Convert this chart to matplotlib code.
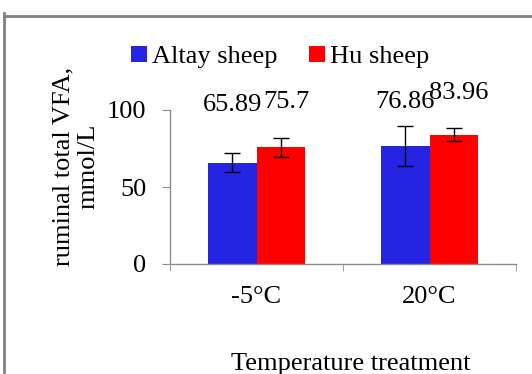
import numpy as np
import matplotlib
matplotlib.use("Agg")
import matplotlib.pyplot as plt
from matplotlib.lines import Line2D

plt.rcParams['font.family'] = ['Liberation Serif', 'DejaVu Serif']

# data
categories = ['-5°C', '20°C']
series = ['Altay sheep', 'Hu sheep']
altay = [65.89, 76.86]
hu = [75.7, 83.96]
altay_err = [6.3, 12.9]
hu_err = [6.1, 4.3]
colors = ['#2424e2', '#ff0000']

# label heights (layout only)
altay_lab_y = [103, 105]
hu_lab_y = [105, 111]

W, H = 532, 374
fig = plt.figure(figsize=(W / 100, H / 100), dpi=100)
ax = fig.add_axes([170 / W, 1 - 264 / H, 346 / W, 154 / H])

x = np.arange(len(categories))
bw = 0.28
ax.bar(x - bw / 2, altay, bw, color=colors[0], label=series[0])
ax.bar(x + bw / 2, hu, bw, color=colors[1], label=series[1])
ax.errorbar(x - bw / 2, altay, yerr=altay_err, fmt='none', ecolor='black',
            elinewidth=1, capsize=5.5, capthick=1)
ax.errorbar(x + bw / 2, hu, yerr=hu_err, fmt='none', ecolor='black',
            elinewidth=1, capsize=5.5, capthick=1)

fs = 19
for xi, v, ly in zip(x - bw / 2, altay, altay_lab_y):
    ax.text(xi, ly, f'{v:g}', ha='center', va='center', fontsize=fs)
for xi, v, ly in zip(x + bw / 2, hu, hu_lab_y):
    ax.text(xi + 0.03, ly, f'{v:g}', ha='center', va='center', fontsize=fs)

ax.set_xlim(-0.5, 1.5)
ax.set_ylim(0, 100)
ax.set_yticks([0, 50, 100])
ax.set_xticks(x)
ax.set_xticklabels(categories, fontsize=fs)
ax.set_xticks([-0.5, 0.5, 1.5], minor=True)
ax.tick_params(axis='x', which='major', length=0, pad=16)
ax.tick_params(axis='x', which='minor', length=5, color='#8c8c8c', direction='out')
ax.tick_params(axis='y', length=6, color='#8c8c8c', labelsize=fs, pad=11)

for s in ['top', 'right']:
    ax.spines[s].set_visible(False)
for s in ['left', 'bottom']:
    ax.spines[s].set_color('#8c8c8c')
    ax.spines[s].set_linewidth(1)

fig.text(351 / W, 1 - 364 / H, 'Temperature treatment', ha='center', va='center', fontsize=fs)
fig.text(76 / W, 1 - 166 / H, 'ruminal total VFA,\nmmol/L', ha='center', va='center',
         rotation=90, fontsize=fs, multialignment='center', linespacing=1.15)

ax.legend(loc='center', bbox_to_anchor=(280 / W, 1 - 57 / H), bbox_transform=fig.transFigure,
          ncol=2, frameon=False, fontsize=fs, handlelength=0.6, handleheight=0.6,
          handletextpad=0.2, columnspacing=1.2, borderpad=0)

# outer frame, only left and top edges are inside the picture
fig.add_artist(Line2D([4 / W, 4 / W], [0, 1 - 13 / H], transform=fig.transFigure,
                      color='#808080', linewidth=2))
fig.add_artist(Line2D([4 / W, 1], [1 - 16 / H, 1 - 16 / H], transform=fig.transFigure,
                      color='#808080', linewidth=2))

fig.savefig('out.png', dpi=100)
